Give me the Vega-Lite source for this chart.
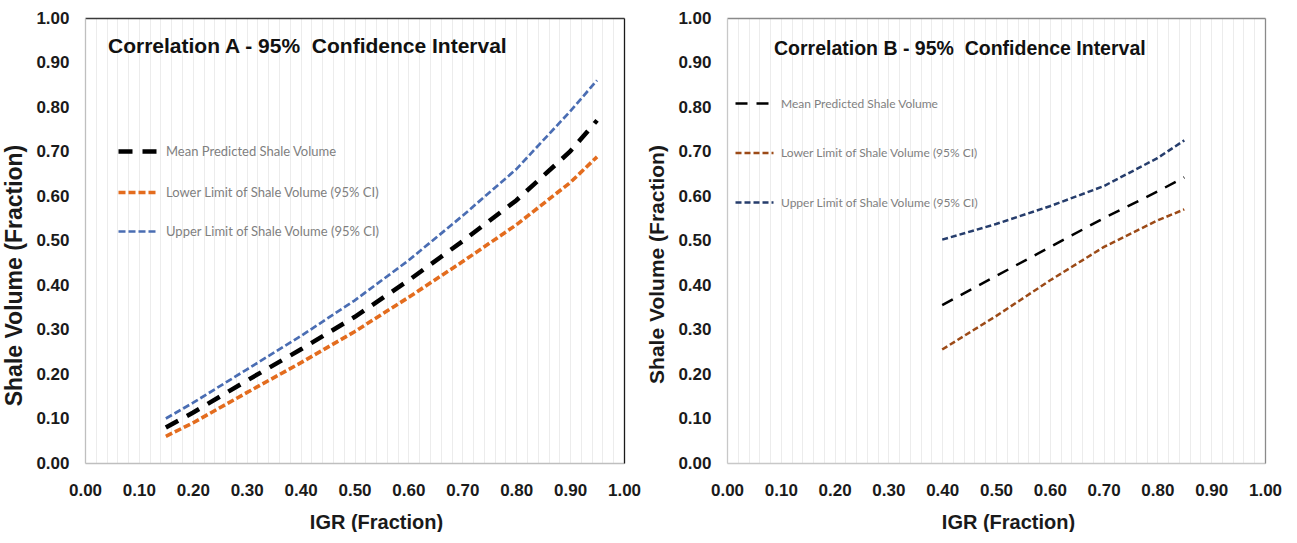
{
  "$schema": "https://vega.github.io/schema/vega-lite/v6.json",
  "background": "white",
  "padding": {"left": 3, "top": 9, "right": 0, "bottom": 0},
  "spacing": 5,
  "config": {
    "font": "Liberation Sans",
    "view": {"stroke": null},
    "axis": {"labelFont": "Liberation Sans", "titleFont": "Liberation Sans", "labelFontWeight": "bold", "titleFontWeight": "bold", "labelFontSize": 17, "titleFontSize": 20, "labelColor": "#1a1a1a", "titleColor": "#1a1a1a", "ticks": false},
    "legend": {"labelFont": "Lato", "labelFontSize": 12, "labelColor": "#7f7f7f", "symbolType": "stroke", "title": null, "orient": "none", "labelLimit": 0}
  },
  "datasets": {
    "A": [
      {"series": "Mean Predicted Shale Volume", "igr": 0.15, "vsh": 0.080},
      {"series": "Mean Predicted Shale Volume", "igr": 0.20, "vsh": 0.113},
      {"series": "Mean Predicted Shale Volume", "igr": 0.30, "vsh": 0.185},
      {"series": "Mean Predicted Shale Volume", "igr": 0.40, "vsh": 0.255},
      {"series": "Mean Predicted Shale Volume", "igr": 0.50, "vsh": 0.328},
      {"series": "Mean Predicted Shale Volume", "igr": 0.60, "vsh": 0.410},
      {"series": "Mean Predicted Shale Volume", "igr": 0.70, "vsh": 0.498},
      {"series": "Mean Predicted Shale Volume", "igr": 0.80, "vsh": 0.590},
      {"series": "Mean Predicted Shale Volume", "igr": 0.90, "vsh": 0.700},
      {"series": "Mean Predicted Shale Volume", "igr": 0.95, "vsh": 0.770},
      {"series": "Lower Limit of Shale Volume (95% CI)", "igr": 0.15, "vsh": 0.060},
      {"series": "Lower Limit of Shale Volume (95% CI)", "igr": 0.20, "vsh": 0.090},
      {"series": "Lower Limit of Shale Volume (95% CI)", "igr": 0.30, "vsh": 0.158},
      {"series": "Lower Limit of Shale Volume (95% CI)", "igr": 0.40, "vsh": 0.225},
      {"series": "Lower Limit of Shale Volume (95% CI)", "igr": 0.50, "vsh": 0.295},
      {"series": "Lower Limit of Shale Volume (95% CI)", "igr": 0.60, "vsh": 0.372},
      {"series": "Lower Limit of Shale Volume (95% CI)", "igr": 0.70, "vsh": 0.452},
      {"series": "Lower Limit of Shale Volume (95% CI)", "igr": 0.80, "vsh": 0.535},
      {"series": "Lower Limit of Shale Volume (95% CI)", "igr": 0.90, "vsh": 0.630},
      {"series": "Lower Limit of Shale Volume (95% CI)", "igr": 0.95, "vsh": 0.688},
      {"series": "Upper Limit of Shale Volume (95% CI)", "igr": 0.15, "vsh": 0.100},
      {"series": "Upper Limit of Shale Volume (95% CI)", "igr": 0.20, "vsh": 0.135},
      {"series": "Upper Limit of Shale Volume (95% CI)", "igr": 0.30, "vsh": 0.210},
      {"series": "Upper Limit of Shale Volume (95% CI)", "igr": 0.40, "vsh": 0.285},
      {"series": "Upper Limit of Shale Volume (95% CI)", "igr": 0.50, "vsh": 0.365},
      {"series": "Upper Limit of Shale Volume (95% CI)", "igr": 0.60, "vsh": 0.455},
      {"series": "Upper Limit of Shale Volume (95% CI)", "igr": 0.70, "vsh": 0.555},
      {"series": "Upper Limit of Shale Volume (95% CI)", "igr": 0.80, "vsh": 0.660},
      {"series": "Upper Limit of Shale Volume (95% CI)", "igr": 0.90, "vsh": 0.790},
      {"series": "Upper Limit of Shale Volume (95% CI)", "igr": 0.95, "vsh": 0.860}
    ],
    "B": [
      {"series": "Mean Predicted Shale Volume", "igr": 0.40, "vsh": 0.355},
      {"series": "Mean Predicted Shale Volume", "igr": 0.50, "vsh": 0.420},
      {"series": "Mean Predicted Shale Volume", "igr": 0.60, "vsh": 0.485},
      {"series": "Mean Predicted Shale Volume", "igr": 0.70, "vsh": 0.550},
      {"series": "Mean Predicted Shale Volume", "igr": 0.80, "vsh": 0.610},
      {"series": "Mean Predicted Shale Volume", "igr": 0.85, "vsh": 0.642},
      {"series": "Lower Limit of Shale Volume (95% CI)", "igr": 0.40, "vsh": 0.255},
      {"series": "Lower Limit of Shale Volume (95% CI)", "igr": 0.50, "vsh": 0.330},
      {"series": "Lower Limit of Shale Volume (95% CI)", "igr": 0.60, "vsh": 0.410},
      {"series": "Lower Limit of Shale Volume (95% CI)", "igr": 0.70, "vsh": 0.485},
      {"series": "Lower Limit of Shale Volume (95% CI)", "igr": 0.80, "vsh": 0.545},
      {"series": "Lower Limit of Shale Volume (95% CI)", "igr": 0.85, "vsh": 0.570},
      {"series": "Upper Limit of Shale Volume (95% CI)", "igr": 0.40, "vsh": 0.502},
      {"series": "Upper Limit of Shale Volume (95% CI)", "igr": 0.50, "vsh": 0.537},
      {"series": "Upper Limit of Shale Volume (95% CI)", "igr": 0.60, "vsh": 0.577},
      {"series": "Upper Limit of Shale Volume (95% CI)", "igr": 0.70, "vsh": 0.622},
      {"series": "Upper Limit of Shale Volume (95% CI)", "igr": 0.80, "vsh": 0.685},
      {"series": "Upper Limit of Shale Volume (95% CI)", "igr": 0.85, "vsh": 0.725}
    ]
  },
  "resolve": {"scale": {"color": "independent", "strokeDash": "independent", "strokeWidth": "independent"}, "legend": {"color": "independent", "strokeDash": "independent"}},
  "hconcat": [
    {
      "width": 539,
      "height": 445,
      "title": {"text": "Correlation A - 95%\u00a0 Confidence Interval", "frame": "group", "anchor": "start", "dx": 23, "offset": -65, "baseline": "alphabetic", "fontSize": 21, "fontWeight": "bold", "font": "Liberation Sans", "color": "#111111"},
      "data": {"name": "A"},
      "resolve": {"axis": {"x": "independent", "y": "independent"}},
      "layer": [
        {
          "mark": {"type": "line", "clip": false},
          "encoding": {
            "x": {"field": "igr", "type": "quantitative", "scale": {"domain": [0, 1], "nice": false},
              "axis": {"title": "IGR (Fraction)", "titleX": 291, "titleAlign": "center", "values": [0,0.02,0.04,0.06,0.08,0.1,0.12,0.14,0.16,0.18,0.2,0.22,0.24,0.26,0.28,0.3,0.32,0.34,0.36,0.38,0.4,0.42,0.44,0.46,0.48,0.5,0.52,0.54,0.56,0.58,0.6,0.62,0.64,0.66,0.68,0.7,0.72,0.74,0.76,0.78,0.8,0.82,0.84,0.86,0.88,0.9,0.92,0.94,0.96,0.98,1],
                "labelExpr": "abs(datum.value*10 - round(datum.value*10)) < 0.001 ? format(datum.value, '.2f') : ''", "grid": true, "gridColor": "#ececec", "domainColor": "#bfbfbf", "domainWidth": 1.3, "labelPadding": 19, "titlePadding": 14, "labelOverlap": false, "labelFlush": false}},
            "y": {"field": "vsh", "type": "quantitative", "scale": {"domain": [0, 1], "nice": false},
              "axis": {"title": "Shale Volume (Fraction)", "titleFontSize": 23, "titleY": 257, "values": [0,0.1,0.2,0.3,0.4,0.5,0.6,0.7,0.8,0.9,1], "format": ".2f", "grid": false, "domainColor": "#bfbfbf", "domainWidth": 1.3, "labelPadding": 16, "titlePadding": 9, "labelFlush": false}},
            "color": {"field": "series", "type": "nominal", "scale": {"domain": ["Mean Predicted Shale Volume", "Lower Limit of Shale Volume (95% CI)", "Upper Limit of Shale Volume (95% CI)"], "range": ["#000000", "#E36C1E", "#4A6DB3"]},
              "legend": {"legendX": 31, "legendY": 111, "symbolSize": 1600, "rowPadding": 9.5, "labelOffset": 5, "labelFontSize": 13, "symbolStrokeWidth": 3,
                "encode": {"symbols": {"update": {"strokeWidth": {"signal": "datum.label === 'Mean Predicted Shale Volume' ? 4.5 : 2.5"}}}}}},
            "strokeDash": {"field": "series", "type": "nominal", "scale": {"domain": ["Mean Predicted Shale Volume", "Lower Limit of Shale Volume (95% CI)", "Upper Limit of Shale Volume (95% CI)"], "range": [[14, 10], [7, 3], [7, 3]]}},
            "strokeWidth": {"field": "series", "type": "nominal", "scale": {"domain": ["Mean Predicted Shale Volume", "Lower Limit of Shale Volume (95% CI)", "Upper Limit of Shale Volume (95% CI)"], "range": [4.5, 2.7, 2.7]}, "legend": null}
          }
        },
        {
          "mark": {"type": "line", "opacity": 0},
          "encoding": {
            "x": {"field": "igr", "type": "quantitative", "axis": {"orient": "top", "labels": false, "ticks": false, "grid": false, "title": null, "domainColor": "#3a3a3a", "domainWidth": 1.3}},
            "y": {"field": "vsh", "type": "quantitative", "axis": {"orient": "right", "labels": false, "ticks": false, "grid": false, "title": null, "domainColor": "#1a1a1a", "domainWidth": 1.3}},
            "detail": {"field": "series"}
          }
        }
      ]
    },
    {
      "width": 538,
      "height": 445,
      "title": {"text": "Correlation B - 95%\u00a0 Confidence Interval", "frame": "group", "anchor": "start", "dx": 47, "offset": -65, "baseline": "alphabetic", "fontSize": 19.5, "fontWeight": "bold", "font": "Liberation Sans", "color": "#111111"},
      "data": {"name": "B"},
      "resolve": {"axis": {"x": "independent", "y": "independent"}},
      "layer": [
        {
          "mark": {"type": "line", "clip": false},
          "encoding": {
            "x": {"field": "igr", "type": "quantitative", "scale": {"domain": [0, 1], "nice": false},
              "axis": {"title": "IGR (Fraction)", "titleX": 281, "titleAlign": "center", "values": [0,0.02,0.04,0.06,0.08,0.1,0.12,0.14,0.16,0.18,0.2,0.22,0.24,0.26,0.28,0.3,0.32,0.34,0.36,0.38,0.4,0.42,0.44,0.46,0.48,0.5,0.52,0.54,0.56,0.58,0.6,0.62,0.64,0.66,0.68,0.7,0.72,0.74,0.76,0.78,0.8,0.82,0.84,0.86,0.88,0.9,0.92,0.94,0.96,0.98,1],
                "labelExpr": "abs(datum.value*10 - round(datum.value*10)) < 0.001 ? format(datum.value, '.2f') : ''", "grid": true, "gridColor": "#ececec", "domainColor": "#c8c8c8", "domainWidth": 1.3, "labelPadding": 19, "titlePadding": 14, "labelOverlap": false, "labelFlush": false}},
            "y": {"field": "vsh", "type": "quantitative", "scale": {"domain": [0, 1], "nice": false},
              "axis": {"title": "Shale Volume (Fraction)", "titleFontSize": 21, "titleY": 246, "values": [0,0.1,0.2,0.3,0.4,0.5,0.6,0.7,0.8,0.9,1], "format": ".2f", "grid": false, "domainColor": "#c8c8c8", "domainWidth": 1.3, "labelPadding": 16, "titlePadding": 10, "labelFlush": false}},
            "color": {"field": "series", "type": "nominal", "scale": {"domain": ["Mean Predicted Shale Volume", "Lower Limit of Shale Volume (95% CI)", "Upper Limit of Shale Volume (95% CI)"], "range": ["#000000", "#9C4A17", "#263D6C"]},
              "legend": {"legendX": 7, "legendY": 65, "symbolSize": 1444, "rowPadding": 22.5, "labelOffset": 6, "symbolStrokeWidth": 2.5}},
            "strokeDash": {"field": "series", "type": "nominal", "scale": {"domain": ["Mean Predicted Shale Volume", "Lower Limit of Shale Volume (95% CI)", "Upper Limit of Shale Volume (95% CI)"], "range": [[12, 9], [6, 3], [6, 3]]}},
            "strokeWidth": {"value": 2.5}
          }
        },
        {
          "mark": {"type": "line", "opacity": 0},
          "encoding": {
            "x": {"field": "igr", "type": "quantitative", "axis": {"orient": "top", "labels": false, "ticks": false, "grid": false, "title": null, "domainColor": "#8a8a8a", "domainWidth": 1.3}},
            "y": {"field": "vsh", "type": "quantitative", "axis": {"orient": "right", "labels": false, "ticks": false, "grid": false, "title": null, "domainColor": "#8a8a8a", "domainWidth": 1.3}},
            "detail": {"field": "series"}
          }
        }
      ]
    }
  ]
}
